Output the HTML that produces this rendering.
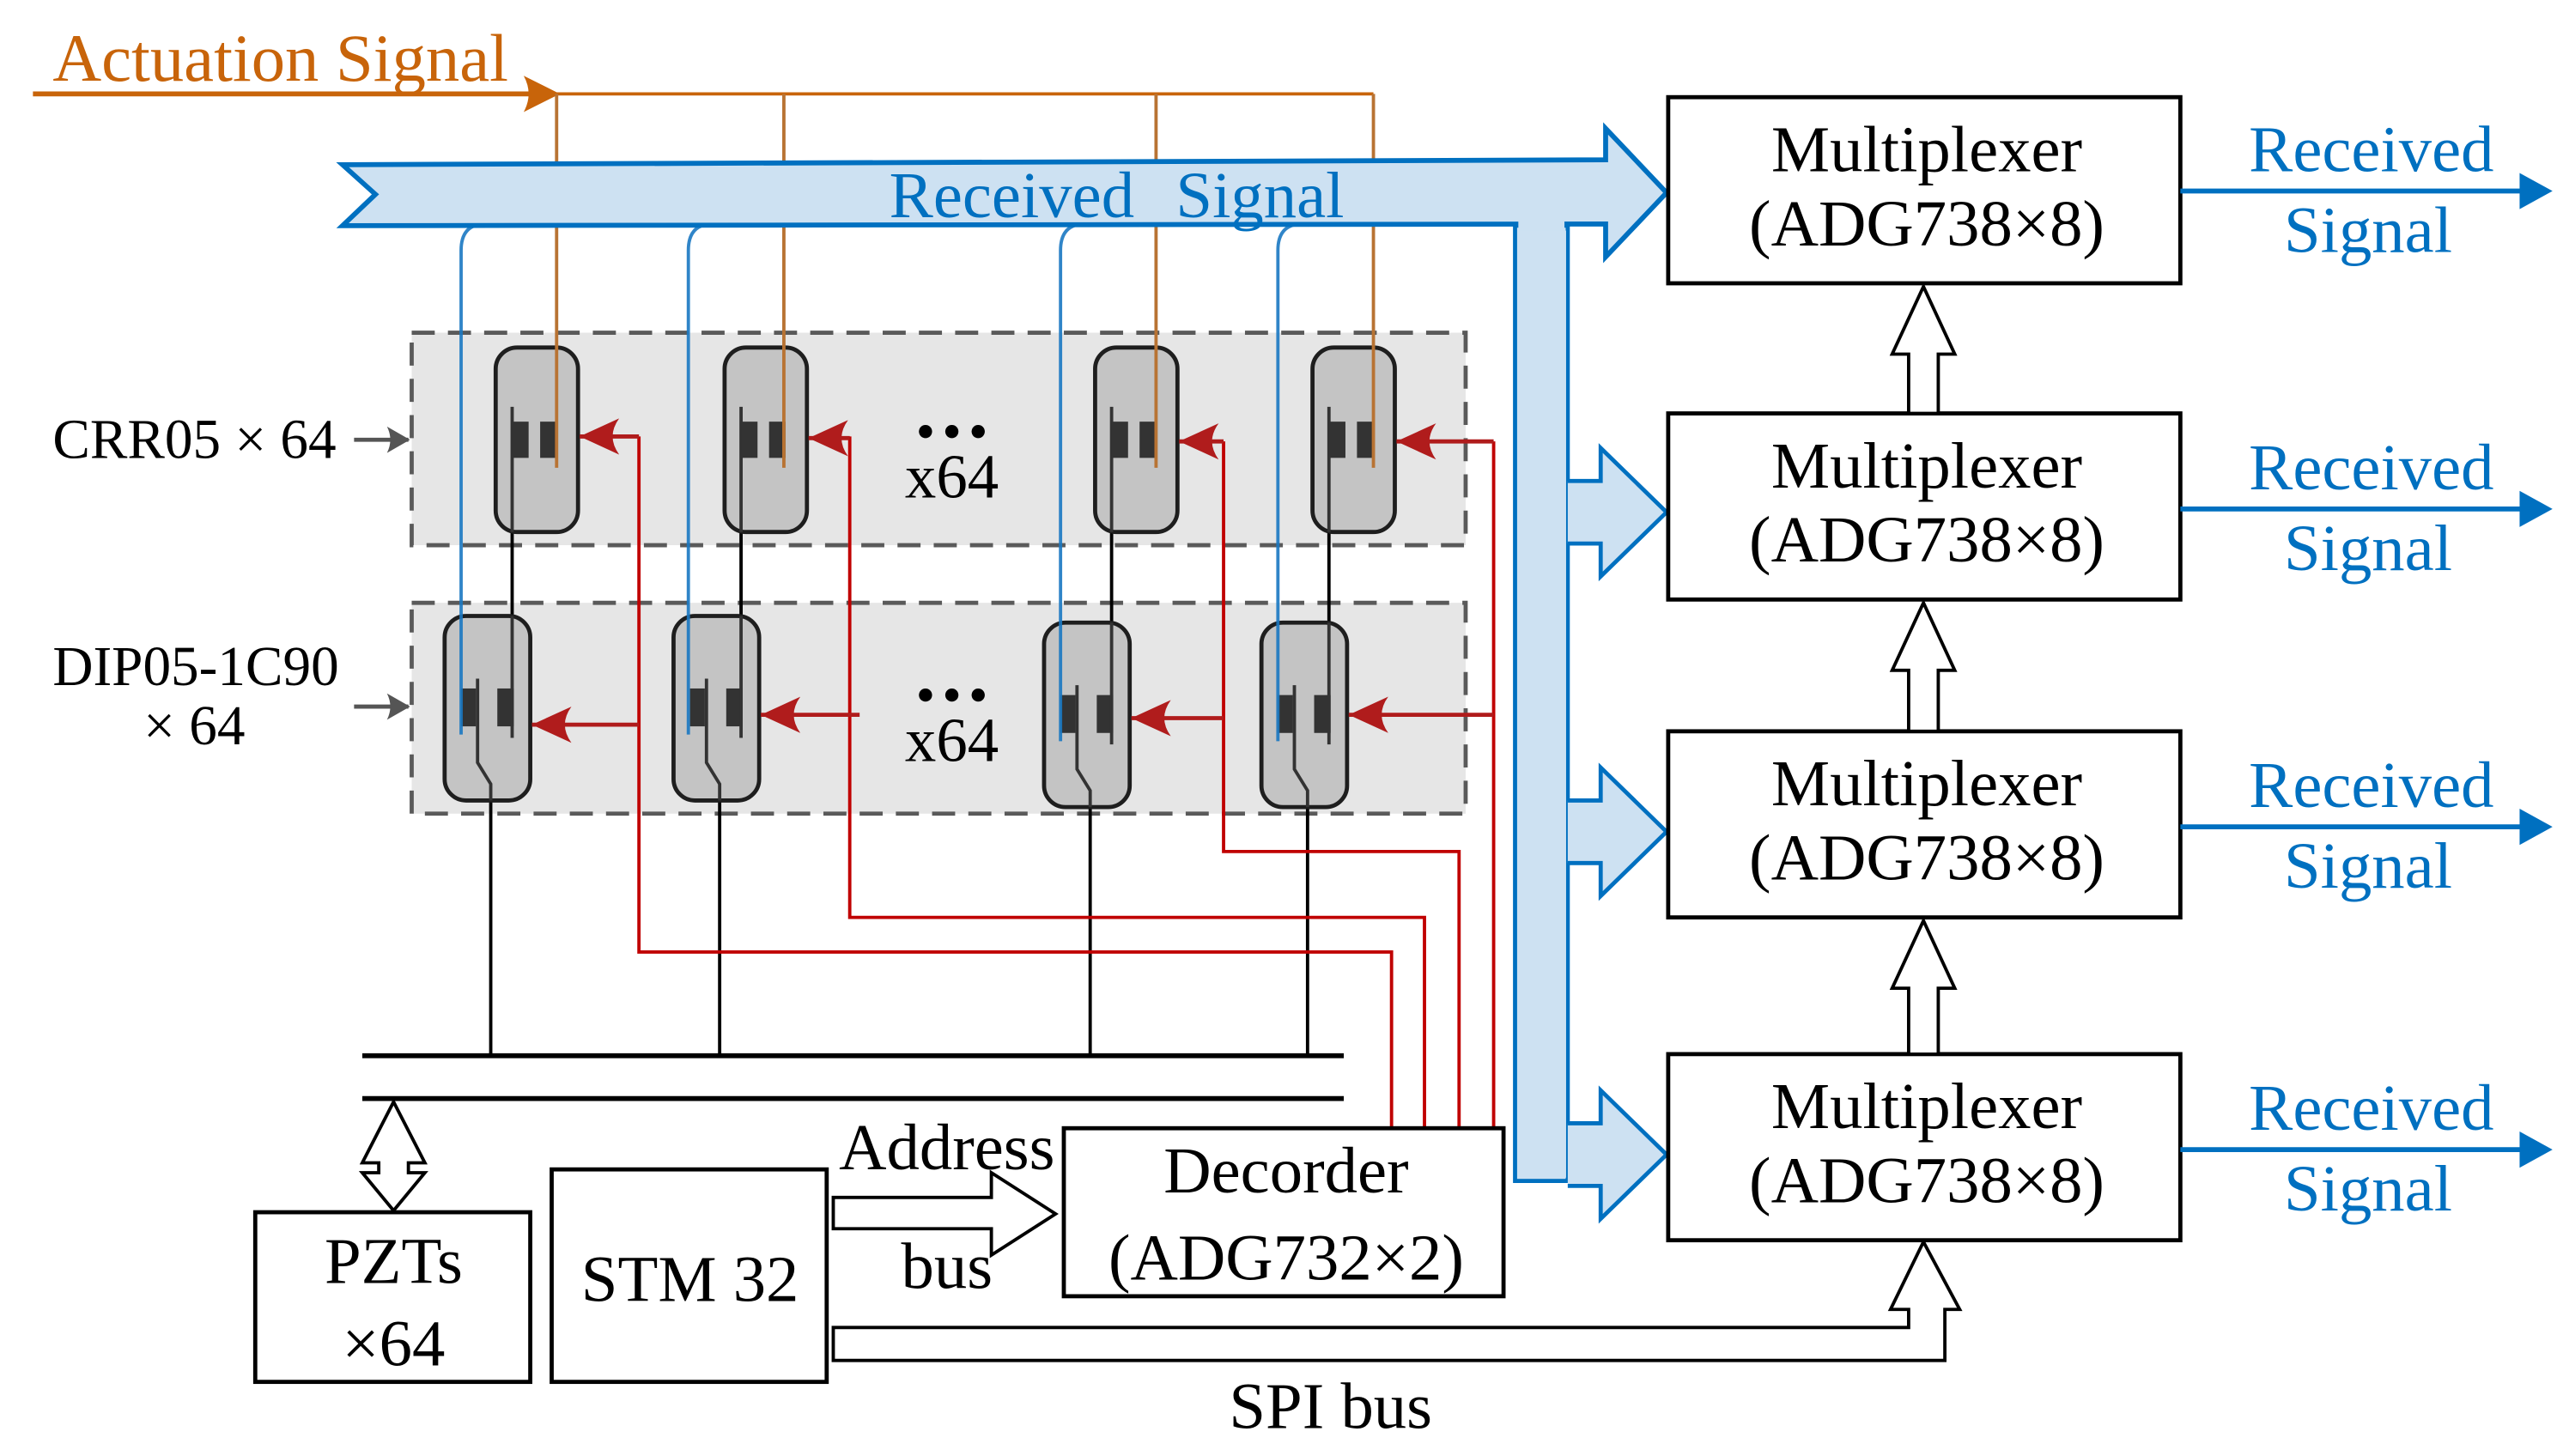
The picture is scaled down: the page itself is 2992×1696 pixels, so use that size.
<!DOCTYPE html>
<html><head><meta charset="utf-8"><style>
html,body{margin:0;padding:0;background:#fff}
svg{display:block}
text{font-family:"Liberation Serif",serif}
</style></head><body>
<svg width="2992" height="1696" viewBox="0 0 1560 884" preserveAspectRatio="none" xmlns="http://www.w3.org/2000/svg">
<defs>
<marker id="ra2" markerWidth="26" markerHeight="22" refX="24" refY="11" orient="auto" markerUnits="userSpaceOnUse" viewBox="0 0 26 22">
<path d="M0,0 L24,11 L0,22 Q8,11 0,0 Z" fill="#b01c1c"/></marker>
<marker id="ga" markerWidth="14" markerHeight="16" refX="13" refY="8" orient="auto" markerUnits="userSpaceOnUse">
<path d="M0,0 L14,8 L0,16 Q4,8 0,0Z" fill="#555"/></marker>
</defs>

<text x="32" y="49" font-size="41" fill="#c8640a">Actuation Signal</text>
<line x1="20" y1="57" x2="330" y2="57" stroke="#c8640a" stroke-width="3"/>
<path d="M318,46 L340,57 L318,68 Q324,57 318,46Z" fill="#c8640a"/>
<polyline points="338,57 834,57" fill="none" stroke="#c8640a" stroke-width="2"/>

<rect x="250" y="202" width="640" height="129" fill="#e6e6e6" stroke="#5a5a5a" stroke-width="2.5" stroke-dasharray="14,8"/>
<rect x="250" y="366" width="640" height="128" fill="#e6e6e6" stroke="#5a5a5a" stroke-width="2.5" stroke-dasharray="14,8"/>

<g stroke="#000" stroke-width="2">
<line x1="311" y1="323" x2="311" y2="374"/><line x1="450" y1="323" x2="450" y2="374"/>
<line x1="675" y1="323" x2="675" y2="378"/><line x1="807" y1="323" x2="807" y2="378"/>
<line x1="298" y1="486" x2="298" y2="641"/><line x1="437" y1="486" x2="437" y2="641"/>
<line x1="662" y1="490" x2="662" y2="641"/><line x1="794" y1="490" x2="794" y2="641"/>
</g>
<line x1="220" y1="641" x2="816" y2="641" stroke="#000" stroke-width="3"/>
<line x1="220" y1="667" x2="816" y2="667" stroke="#000" stroke-width="3"/>

<g>
<g transform="translate(301,211)"><rect x="0" y="0" width="50" height="112" rx="13" fill="#c4c4c4" stroke="#1e1e1e" stroke-width="2.5"/><line x1="10" y1="36" x2="10" y2="112" stroke="#333" stroke-width="2"/><rect x="10" y="45" width="10" height="22" fill="#333"/><rect x="27" y="45" width="10" height="22" fill="#333"/></g>
<g transform="translate(440,211)"><rect x="0" y="0" width="50" height="112" rx="13" fill="#c4c4c4" stroke="#1e1e1e" stroke-width="2.5"/><line x1="10" y1="36" x2="10" y2="112" stroke="#333" stroke-width="2"/><rect x="10" y="45" width="10" height="22" fill="#333"/><rect x="27" y="45" width="10" height="22" fill="#333"/></g>
<g transform="translate(665,211)"><rect x="0" y="0" width="50" height="112" rx="13" fill="#c4c4c4" stroke="#1e1e1e" stroke-width="2.5"/><line x1="10" y1="36" x2="10" y2="112" stroke="#333" stroke-width="2"/><rect x="10" y="45" width="10" height="22" fill="#333"/><rect x="27" y="45" width="10" height="22" fill="#333"/></g>
<g transform="translate(797,211)"><rect x="0" y="0" width="50" height="112" rx="13" fill="#c4c4c4" stroke="#1e1e1e" stroke-width="2.5"/><line x1="10" y1="36" x2="10" y2="112" stroke="#333" stroke-width="2"/><rect x="10" y="45" width="10" height="22" fill="#333"/><rect x="27" y="45" width="10" height="22" fill="#333"/></g>
</g>
<g stroke="#b87333" stroke-width="2">
<line x1="338" y1="57" x2="338" y2="284"/><line x1="476" y1="57" x2="476" y2="284"/>
<line x1="702" y1="57" x2="702" y2="284"/><line x1="834" y1="57" x2="834" y2="284"/>
</g>

<g>
<g transform="translate(270,374)"><rect x="0" y="0" width="52" height="112" rx="13" fill="#c4c4c4" stroke="#1e1e1e" stroke-width="2.5"/><rect x="10" y="44" width="9" height="23" fill="#333"/><rect x="32" y="44" width="10" height="23" fill="#333"/><line x1="41" y1="0" x2="41" y2="74" stroke="#333" stroke-width="2"/><polyline points="20,38 20,89 28,102 28,112" fill="none" stroke="#333" stroke-width="2"/></g>
<g transform="translate(409,374)"><rect x="0" y="0" width="52" height="112" rx="13" fill="#c4c4c4" stroke="#1e1e1e" stroke-width="2.5"/><rect x="10" y="44" width="9" height="23" fill="#333"/><rect x="32" y="44" width="10" height="23" fill="#333"/><line x1="41" y1="0" x2="41" y2="74" stroke="#333" stroke-width="2"/><polyline points="20,38 20,89 28,102 28,112" fill="none" stroke="#333" stroke-width="2"/></g>
<g transform="translate(634,378)"><rect x="0" y="0" width="52" height="112" rx="13" fill="#c4c4c4" stroke="#1e1e1e" stroke-width="2.5"/><rect x="10" y="44" width="9" height="23" fill="#333"/><rect x="32" y="44" width="10" height="23" fill="#333"/><line x1="41" y1="0" x2="41" y2="74" stroke="#333" stroke-width="2"/><polyline points="20,38 20,89 28,102 28,112" fill="none" stroke="#333" stroke-width="2"/></g>
<g transform="translate(766,378)"><rect x="0" y="0" width="52" height="112" rx="13" fill="#c4c4c4" stroke="#1e1e1e" stroke-width="2.5"/><rect x="10" y="44" width="9" height="23" fill="#333"/><rect x="32" y="44" width="10" height="23" fill="#333"/><line x1="41" y1="0" x2="41" y2="74" stroke="#333" stroke-width="2"/><polyline points="20,38 20,89 28,102 28,112" fill="none" stroke="#333" stroke-width="2"/></g>
</g>

<g stroke="#1a78c2" stroke-width="2" fill="none" opacity="0.9">
<path d="M293,136 Q280,137 280,152 L280,446"/>
<path d="M431,136 Q418,137 418,152 L418,446"/>
<path d="M657,136 Q644,137 644,152 L644,450"/>
<path d="M789,136 Q776,137 776,152 L776,450"/>
</g>

<path d="M208,100 L975,97 L975,78 L1012,117 L975,156 L975,136 L208,137 L228,118 Z" fill="#cde1f2" stroke="#0070c0" stroke-width="3" stroke-linejoin="miter"/>
<rect x="920" y="137" width="32" height="580" fill="#cde1f2" stroke="#0070c0" stroke-width="2.5"/>
<rect x="922" y="128" width="28" height="12" fill="#cde1f2"/>
<text x="540" y="132" font-size="40" fill="#0070c0">Received</text>
<text x="714" y="132" font-size="40" fill="#0070c0">Signal</text>
<g fill="#cde1f2" stroke="#0070c0" stroke-width="2.5">
<path d="M952,292 L972,292 L972,272 L1012,311 L972,350 L972,330 L952,330"/>
<path d="M952,486 L972,486 L972,466 L1012,505 L972,544 L972,524 L952,524"/>
<path d="M952,682 L972,682 L972,662 L1012,701 L972,740 L972,720 L952,720"/>
</g>
<rect x="947" y="140" width="4" height="575" fill="#cde1f2"/>

<g stroke="#c00000" stroke-width="2" fill="none">
<polyline points="388,265 388,578 845,578 845,686"/>
<polyline points="516,265 516,557 865,557 865,686"/>
<polyline points="743,268 743,517 886,517 886,686"/>
<polyline points="907,268 907,686"/>
</g>
<g stroke="#b01c1c" stroke-width="2.5" marker-end="url(#ra2)">
<line x1="388" y1="265" x2="352" y2="265"/>
<line x1="516" y1="266" x2="491" y2="266"/>
<line x1="743" y1="268" x2="716" y2="268"/>
<line x1="907" y1="268" x2="848" y2="268"/>
<line x1="388" y1="440" x2="323" y2="440"/>
<line x1="522" y1="434" x2="462" y2="434"/>
<line x1="743" y1="436" x2="687" y2="436"/>
<line x1="907" y1="434" x2="819" y2="434"/>
</g>

<text x="32" y="278" font-size="34">CRR05 × 64</text>
<line x1="215" y1="267" x2="248" y2="267" stroke="#555" stroke-width="2.5" marker-end="url(#ga)"/>
<text x="32" y="416" font-size="34">DIP05-1C90</text>
<text x="118" y="452" font-size="34" text-anchor="middle">× 64</text>
<line x1="215" y1="429" x2="248" y2="429" stroke="#555" stroke-width="2.5" marker-end="url(#ga)"/>

<g fill="#000"><circle cx="562" cy="262" r="4"/><circle cx="578" cy="262" r="4"/><circle cx="594" cy="262" r="4"/>
<circle cx="562" cy="422" r="4"/><circle cx="578" cy="422" r="4"/><circle cx="594" cy="422" r="4"/></g>
<text x="578" y="302" font-size="38" text-anchor="middle">x64</text>
<text x="578" y="462" font-size="38" text-anchor="middle">x64</text>

<g fill="#fff" stroke="#000" stroke-width="2.5">
<rect x="1013" y="59" width="311" height="113"/>
<rect x="1013" y="251" width="311" height="113"/>
<rect x="1013" y="444" width="311" height="113"/>
<rect x="1013" y="640" width="311" height="113"/>
</g>
<g font-size="40" text-anchor="middle">
<text x="1170" y="104">Multiplexer</text><text x="1170" y="149">(ADG738×8)</text>
<text x="1170" y="296">Multiplexer</text><text x="1170" y="341">(ADG738×8)</text>
<text x="1170" y="489">Multiplexer</text><text x="1170" y="534">(ADG738×8)</text>
<text x="1170" y="685">Multiplexer</text><text x="1170" y="730">(ADG738×8)</text>
</g>
<g fill="#fff" stroke="#000" stroke-width="2">
<path d="M1159,251 L1159,215 L1149,215 L1168,174 L1187,215 L1177,215 L1177,251Z"/>
<path d="M1159,444 L1159,407 L1149,407 L1168,366 L1187,407 L1177,407 L1177,444Z"/>
<path d="M1159,640 L1159,600 L1149,600 L1168,559 L1187,600 L1177,600 L1177,640Z"/>
</g>
<g stroke="#0070c0" stroke-width="3">
<line x1="1324" y1="116" x2="1535" y2="116"/><line x1="1324" y1="309" x2="1535" y2="309"/>
<line x1="1324" y1="502" x2="1535" y2="502"/><line x1="1324" y1="698" x2="1535" y2="698"/>
</g>
<g fill="#0070c0">
<path d="M1530,105 L1550,116 L1530,127Z"/><path d="M1530,298 L1550,309 L1530,320Z"/>
<path d="M1530,491 L1550,502 L1530,513Z"/><path d="M1530,687 L1550,698 L1530,709Z"/>
</g>
<g font-size="40" fill="#0070c0" text-anchor="middle">
<text x="1440" y="104">Received</text><text x="1438" y="153">Signal</text>
<text x="1440" y="297">Received</text><text x="1438" y="346">Signal</text>
<text x="1440" y="490">Received</text><text x="1438" y="539">Signal</text>
<text x="1440" y="686">Received</text><text x="1438" y="735">Signal</text>
</g>

<g fill="#fff" stroke="#000" stroke-width="2.5">
<rect x="155" y="736" width="167" height="103"/>
<rect x="335" y="710" width="167" height="129"/>
<rect x="646" y="685" width="267" height="102"/>
</g>
<text x="239" y="779" font-size="40" text-anchor="middle">PZTs</text>
<text x="239" y="829" font-size="40" text-anchor="middle">×64</text>
<text x="419" y="790" font-size="40" text-anchor="middle">STM 32</text>
<text x="781" y="724" font-size="40" text-anchor="middle">Decorder</text>
<text x="781" y="777" font-size="40" text-anchor="middle">(ADG732×2)</text>
<text x="575" y="710" font-size="40" text-anchor="middle">Address</text>
<text x="575" y="782" font-size="40" text-anchor="middle">bus</text>
<text x="808" y="867" font-size="40" text-anchor="middle">SPI bus</text>
<g fill="#fff" stroke="#000" stroke-width="2">
<path d="M239,669 L258,706 L248,706 L248,712 L258,712 L239,735 L220,712 L230,712 L230,706 L220,706 Z"/>
<path d="M506,727 L602,727 L602,712 L641,737 L602,762 L602,746 L506,746Z"/>
<path d="M506,806 L1159,806 L1159,795 L1148,795 L1168,754 L1190,795 L1181,795 L1181,826 L506,826Z"/>
</g>
</svg>
</body></html>
